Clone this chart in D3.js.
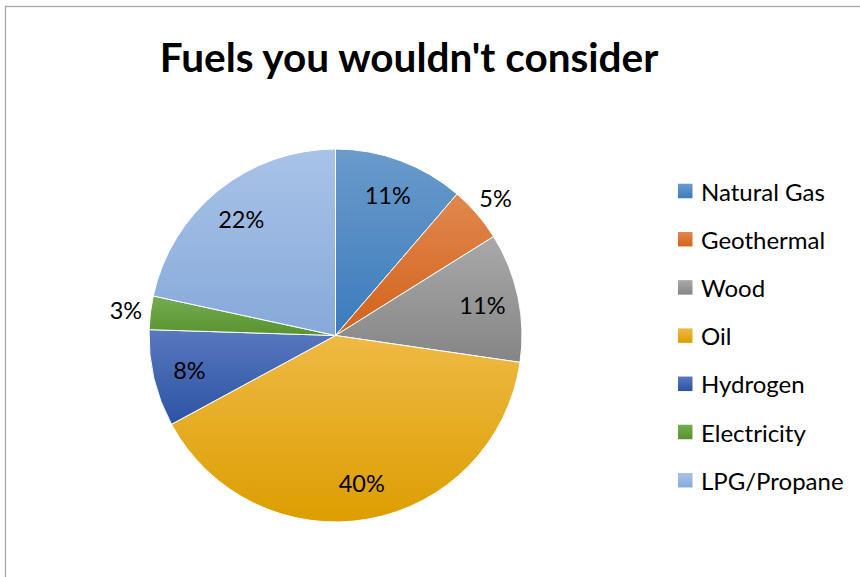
<!DOCTYPE html>
<html><head><meta charset="utf-8">
<script src="https://cdn.jsdelivr.net/npm/d3@7"></script>
<style>body{margin:0;background:#fff}svg{display:block}</style>
</head><body>
<script>
const categories = ["Natural Gas","Geothermal","Wood","Oil","Hydrogen","Electricity","LPG/Propane"];
const values = [11.3, 4.8, 11.2, 39.8, 8.4, 2.9, 21.6];
const topColors = ["#6a9bcb","#e0884f","#a9a9a9","#efb945","#5878bf","#74ad50","#a9c3e7"];
const bottomColors = ["#3c7bbc","#d3621a","#858585","#dc9e00","#2c53a3","#58932f","#86a9da"];
const title = "Fuels you wouldn't consider";

const W = 860, H = 577;
const svg = d3.select("body").append("svg").attr("width", W).attr("height", H);
const defs = svg.append("defs");
categories.forEach((c,i)=>{
  const g = defs.append("linearGradient").attr("id","g"+i).attr("x1",0).attr("y1",0).attr("x2",0).attr("y2",1);
  g.append("stop").attr("offset","0%").attr("stop-color",topColors[i]);
  g.append("stop").attr("offset","100%").attr("stop-color",bottomColors[i]);
});

// border
svg.append("rect").attr("x",5.5).attr("y",6.5).attr("width",W+20).attr("height",H+20)
  .attr("fill","none").attr("stroke","#a6a6a6").attr("stroke-width",1.3);

svg.append("text").attr("x",409).attr("y",72).attr("text-anchor","middle")
  .attr("font-family","Lato, 'Open Sans', sans-serif").attr("font-weight","bold")
  .attr("font-size",40.5).attr("fill","#000").text(title);

const cx = 335.5, cy = 335.5, r = 186.5;
const total = d3.sum(values);
const pie = d3.pie().sort(null).value(d=>d)(values);
const arc = d3.arc().innerRadius(0).outerRadius(r);
const g = svg.append("g").attr("transform",`translate(${cx},${cy})`);
g.selectAll("path").data(pie).join("path")
  .attr("d",arc).attr("fill",(d,i)=>`url(#g${i})`)
  .attr("stroke","#fff").attr("stroke-width",1).attr("stroke-linejoin","round");

const inArc = d3.arc().innerRadius(r*0.805).outerRadius(r*0.805);
const outArc = d3.arc().innerRadius(r*1.132).outerRadius(r*1.132);
g.selectAll("text.lbl").data(pie).join("text").attr("class","lbl")
  .attr("transform",d=>{
    const p = (d.value/total < 0.06 ? outArc : inArc).centroid(d);
    return `translate(${p[0]},${p[1]})`;
  })
  .attr("text-anchor","middle").attr("dominant-baseline","central")
  .attr("font-family","Lato, 'Open Sans', sans-serif").attr("font-size",23.5).attr("fill","#000")
  .text(d=>Math.round(d.value/total*100)+"%");

// legend
const ly = d3.scalePoint().domain(categories).range([191, 480.2]);
const leg = svg.append("g");
const items = leg.selectAll("g").data(categories).join("g")
  .attr("transform",d=>`translate(678,${ly(d)})`);
items.append("rect").attr("x",0).attr("y",-7.25).attr("width",14.5).attr("height",14.5)
  .attr("fill",(d,i)=>`url(#g${i})`);
items.append("text").attr("x",23).attr("y",0).attr("dominant-baseline","central")
  .attr("font-family","Lato, 'Open Sans', sans-serif").attr("font-size",24).attr("fill","#000")
  .text(d=>d);
</script>
</body></html>
